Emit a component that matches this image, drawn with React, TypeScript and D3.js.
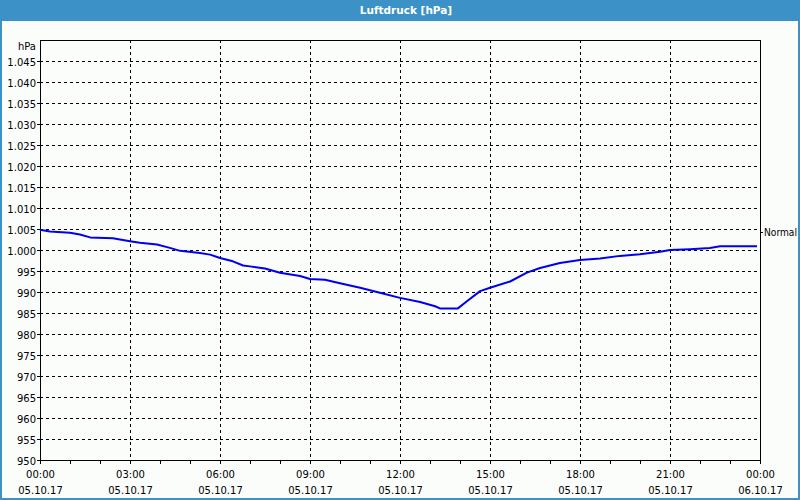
import React from "react";
import * as d3 from "d3";

const TITLE = "Luftdruck [hPa]";
const UNIT = "hPa";
const NORMAL_LABEL = "Normal";
const NORMAL_VALUE = 1004.2;

// hours since 05.10.17 00:00
const hours = [
  0, 0.33, 1.0, 1.33, 1.67, 2.43, 3.0, 3.33, 3.9, 4.33, 4.67, 5.33, 5.67, 6.0, 6.43, 6.77,
  7.0, 7.5, 8.0, 8.67, 9.0, 9.5, 10.0, 10.67, 11.33, 12.0, 12.67, 13.17, 13.33, 13.93, 14.23,
  14.67, 15.0, 15.67, 16.23, 16.67, 17.33, 18.0, 18.67, 19.33, 20.0, 20.67, 21.0, 21.67,
  22.33, 22.67, 23.9,
];
const pressure = [
  1004.8, 1004.4, 1004.1, 1003.7, 1003.0, 1002.8, 1002.1, 1001.7, 1001.3, 1000.5, 999.8,
  999.3, 998.9, 998.1, 997.3, 996.3, 996.1, 995.6, 994.6, 993.8, 993.1, 992.9, 992.1, 991.0,
  989.8, 988.6, 987.6, 986.6, 986.1, 986.1, 987.8, 990.2, 991.0, 992.5, 994.6, 995.7, 996.9,
  997.6, 998.0, 998.6, 999.0, 999.6, 1000.0, 1000.2, 1000.5, 1000.9, 1000.9,
];

const yTicks = [950, 955, 960, 965, 970, 975, 980, 985, 990, 995, 1000, 1005, 1010, 1015, 1020, 1025, 1030, 1035, 1040, 1045];
const xTickHours = [0, 3, 6, 9, 12, 15, 18, 21, 24];
const xTimeLabels = ["00:00", "03:00", "06:00", "09:00", "12:00", "15:00", "18:00", "21:00", "00:00"];
const xDateLabels = ["05.10.17", "05.10.17", "05.10.17", "05.10.17", "05.10.17", "05.10.17", "05.10.17", "05.10.17", "06.10.17"];

const W = 800;
const H = 500;
const left = 40;
const right = 760;
const top = 40;
const bottom = 460;

const fmt = (v: number) => (v >= 1000 ? "1." + String(v - 1000).padStart(3, "0") : String(v));

export default function App() {
  const x = d3.scaleLinear().domain([0, 24]).range([left, right]);
  const y = d3.scaleLinear().domain([950, 1050]).range([bottom, top]);
  const line = d3
    .line<number>()
    .x((_, i) => x(hours[i]))
    .y((d) => y(d));
  const minorHours = d3.range(0, 25);
  const font = "'DejaVu Sans', Tahoma, sans-serif";

  return (
    <svg
      width={W}
      height={H}
      style={{ position: "fixed", left: 0, top: 0, display: "block" }}
      fontFamily={font}
    >
      <rect x={0} y={0} width={W} height={H} fill="#3c91c7" />
      <rect x={2} y={21} width={W - 4} height={H - 23} fill="#fbfdfb" />
      <text x={406} y={11} fill="#ffffff" fontSize={10.5} fontWeight="bold" textAnchor="middle" dominantBaseline="middle">
        {TITLE}
      </text>

      {/* grid */}
      {yTicks.filter((t) => t !== 950).map((t) => (
        <line key={"gy" + t} x1={left} x2={right} y1={Math.round(y(t)) + 0.5} y2={Math.round(y(t)) + 0.5} stroke="#000" strokeDasharray="3,3" shapeRendering="crispEdges" />
      ))}
      {xTickHours.slice(1, -1).map((h) => (
        <line key={"gx" + h} x1={Math.round(x(h)) + 0.5} x2={Math.round(x(h)) + 0.5} y1={top} y2={bottom} stroke="#000" strokeDasharray="3,3" shapeRendering="crispEdges" />
      ))}

      {/* ticks */}
      {yTicks.map((t) => (
        <line key={"ty" + t} x1={left - 3} x2={left} y1={Math.round(y(t)) + 0.5} y2={Math.round(y(t)) + 0.5} stroke="#000" shapeRendering="crispEdges" />
      ))}
      {minorHours.map((h) => (
        <line key={"tx" + h} x1={Math.round(x(h)) + 0.5} x2={Math.round(x(h)) + 0.5} y1={bottom} y2={bottom + 4} stroke="#000" shapeRendering="crispEdges" />
      ))}

      {/* frame */}
      <rect x={left + 0.5} y={top + 0.5} width={right - left} height={bottom - top} fill="none" stroke="#000" shapeRendering="crispEdges" />

      {/* y labels */}
      <text x={36} y={47} fontSize={10} textAnchor="end" dominantBaseline="middle" fill="#000">{UNIT}</text>
      {yTicks.map((t) => (
        <text key={"ly" + t} x={36} y={y(t) + 1.5} fontSize={10} textAnchor="end" dominantBaseline="middle" fill="#000">
          {fmt(t)}
        </text>
      ))}

      {/* x labels */}
      {xTickHours.map((h, i) => (
        <g key={"lx" + i}>
          <text x={x(h) + 0.5} y={475} fontSize={10} textAnchor="middle" dominantBaseline="middle" fill="#000">{xTimeLabels[i]}</text>
          <text x={x(h) + 0.5} y={490.5} fontSize={10} textAnchor="middle" dominantBaseline="middle" fill="#000">{xDateLabels[i]}</text>
        </g>
      ))}

      {/* normal marker */}
      <line x1={right} x2={right + 3} y1={Math.round(y(NORMAL_VALUE)) + 0.5} y2={Math.round(y(NORMAL_VALUE)) + 0.5} stroke="#000" shapeRendering="crispEdges" />
      <text x={764} y={y(NORMAL_VALUE) + 1} fontSize={10} textLength={33} lengthAdjust="spacingAndGlyphs" dominantBaseline="middle" fill="#000">{NORMAL_LABEL}</text>

      {/* data line */}
      <path d={line(pressure) || ""} fill="none" stroke="#0000f0" strokeWidth={2} strokeLinejoin="round" />
    </svg>
  );
}
